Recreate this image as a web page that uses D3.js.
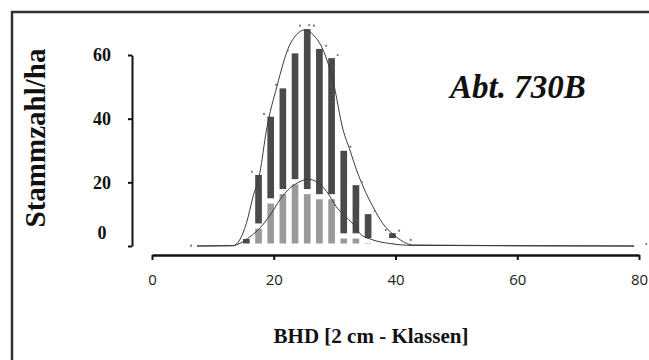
<!DOCTYPE html>
<html>
<head>
<meta charset="utf-8">
<script src="https://cdn.jsdelivr.net/npm/d3@7"></script>
<style>
body { margin: 0; background: #fff; }
svg { display: block; }
.x-axis text { font-family: "Open Sans", "DejaVu Sans", sans-serif; font-size: 15px; fill: #222; }
.y-axis text { font-family: "Liberation Serif", "Times New Roman", serif; font-weight: bold; font-size: 18px; fill: #111; }
.title { font-family: "Liberation Serif", "Times New Roman", serif; font-weight: bold; fill: #111; }
</style>
</head>
<body>
<svg></svg>
<script>
// diameter classes (bar centres, cm) and stem numbers per ha
let classes = [15.5, 17.5, 19.5, 21.5, 23.5, 25.5, 27.5, 29.5, 31.5, 33.5, 35.5, 37.5, 39.5];
let lightValues = [0, 6.3, 14.2, 17.1, 20.2, 17.1, 15.5, 15.5, 3.2, 3.2, 1.7, 0, 1.7];
let darkValues = [3.0, 16.8, 27.2, 33.2, 41.1, 51.8, 47.2, 44.3, 27.5, 16.7, 9.1, 0, 3.1];

// small marker points
let dotX = [6.4, 16.4, 18.4, 20.4, 22.3, 24.3, 25.8, 26.6, 28.6, 30.5, 32.6, 34.5, 36.6, 38.4, 40.6, 42.5, 81.2];
let dotY = [0.1, 23.3, 41.5, 50.6, 61.4, 69.2, 69.4, 69.2, 62.9, 60.0, 31.2, 20.0, 11.0, 5.0, 4.8, 1.9, 0.6];

// fitted curves
let outerX = [7.4, 13.3, 14.4, 15.5, 16.6, 17.7, 18.8, 20.5, 22.6, 23.7, 25.1, 26.5, 28.1, 29.7, 31.4, 32.5, 33.6, 34.7, 36.3, 37.9, 40.1, 42.9, 79.2];
let outerY = [0, 0.1, 1.9, 7.1, 15.5, 22.8, 36.4, 50.0, 63.1, 66.3, 67.9, 66.3, 61.6, 52.2, 36.4, 30.2, 23.9, 18.6, 12.3, 7.1, 2.9, 0.3, 0];
let innerX = [7.4, 13.3, 14.4, 16.1, 17.7, 19.4, 21.0, 22.6, 24.3, 25.6, 27.0, 28.7, 30.3, 31.9, 33.4, 34.1, 36.3, 39.0, 42.8, 79.2];
let innerY = [0, 0.1, 0.8, 2.9, 5.6, 9.7, 14.5, 18.1, 20.2, 21.0, 20.2, 17.1, 12.3, 9.0, 6.1, 4.0, 1.9, 0.8, 0.2, 0];

let xTicks = [0, 20, 40, 60, 80];
let yTicks = [0, 20, 40, 60];

let width = 649;
let height = 360;

let xScale;
let yScale;

const svg = d3.select('svg');

let drawCanvas = () => {
    svg.attr('width', width);
    svg.attr('height', height);

    // frame, only left and top edges are in view
    svg.append('path')
       .attr('d', 'M12,' + height + ' V12 H' + width)
       .attr('fill', 'none')
       .attr('stroke', '#333')
       .attr('stroke-width', 2.5);
}

let generateScales = () => {
    xScale = d3.scaleLinear()
               .domain([0, 80])
               .range([152, 639]);

    yScale = d3.scaleLinear()
               .domain([0, 60])
               .range([246, 55]);
}

let drawBars = () => {
    let half = 0.96;
    let bars = classes.map((c, i) => {
        return {c: c, light: lightValues[i], dark: darkValues[i]};
    });

    let g = svg.append('g');

    g.selectAll('.light')
     .data(bars.filter((d) => d.light > 0))
     .enter()
     .append('rect')
     .attr('class', 'light')
     .attr('x', (d) => xScale(d.c - half))
     .attr('width', (d) => xScale(d.c + half) - xScale(d.c - half))
     .attr('y', (d) => yScale(d.light))
     .attr('height', (d) => yScale(0) - yScale(d.light))
     .attr('fill', '#9a9a9a')
     .attr('stroke', '#fff')
     .attr('stroke-width', 5);

    g.selectAll('.dark')
     .data(bars.filter((d) => d.dark > 0))
     .enter()
     .append('rect')
     .attr('class', 'dark')
     .attr('x', (d) => xScale(d.c - half))
     .attr('width', (d) => xScale(d.c + half) - xScale(d.c - half))
     .attr('y', (d) => yScale(d.light + d.dark))
     .attr('height', (d) => yScale(d.light) - yScale(d.light + d.dark))
     .attr('fill', '#4a4a4a')
     .attr('stroke', '#fff')
     .attr('stroke-width', 5);
}

let drawCurves = () => {
    let line = d3.line()
                 .x((d) => xScale(d[0]))
                 .y((d) => yScale(d[1]))
                 .curve(d3.curveMonotoneX);

    svg.append('path')
       .datum(outerX.map((x, i) => [x, outerY[i]]))
       .attr('d', line)
       .attr('fill', 'none')
       .attr('stroke', '#3a3a3a')
       .attr('stroke-width', 1);

    svg.append('path')
       .datum(innerX.map((x, i) => [x, innerY[i]]))
       .attr('d', line)
       .attr('fill', 'none')
       .attr('stroke', '#3a3a3a')
       .attr('stroke-width', 1);

    svg.selectAll('.dot')
       .data(dotX.map((x, i) => [x, dotY[i]]))
       .enter()
       .append('circle')
       .attr('class', 'dot')
       .attr('cx', (d) => xScale(d[0]))
       .attr('cy', (d) => yScale(d[1]))
       .attr('r', 1.1)
       .attr('fill', '#777');
}

let generateAxes = () => {
    let xAxis = d3.axisBottom(xScale)
                  .tickValues(xTicks)
                  .tickSize(5)
                  .tickSizeOuter(0)
                  .tickPadding(14);

    let yAxis = d3.axisLeft(yScale)
                  .tickValues(yTicks)
                  .tickSize(4)
                  .tickSizeOuter(0)
                  .tickPadding(0);

    let gx = svg.append('g')
                .attr('class', 'x-axis')
                .call(xAxis)
                .attr('font-family', null)
                .attr('font-size', null)
                .attr('transform', 'translate(0, 255)');
    gx.select('.domain').attr('stroke', '#111').attr('stroke-width', 2.5);
    gx.selectAll('.tick line').attr('stroke', '#111').attr('stroke-width', 2);
    gx.selectAll('text').attr('fill', null);

    let gy = svg.append('g')
                .attr('class', 'y-axis')
                .call(yAxis)
                .attr('font-family', null)
                .attr('font-size', null)
                .attr('transform', 'translate(132, 0)');
    gy.select('.domain').attr('stroke', '#111').attr('stroke-width', 2);
    gy.selectAll('.tick line').attr('stroke', '#111').attr('stroke-width', 2);
    gy.selectAll('text')
      .attr('fill', null)
      .attr('x', -30)
      .attr('text-anchor', 'middle')
      .attr('dy', (d) => d === 0 ? '-0.4em' : '0.32em');
}

let drawTitles = () => {
    svg.append('text')
       .attr('class', 'title')
       .attr('x', 450)
       .attr('y', 98)
       .attr('font-style', 'italic')
       .attr('font-size', 33)
       .text('Abt. 730B');

    svg.append('text')
       .attr('class', 'title')
       .attr('transform', 'translate(45, 138) rotate(-90)')
       .attr('text-anchor', 'middle')
       .attr('font-size', 29)
       .text('Stammzahl/ha');

    svg.append('text')
       .attr('class', 'title')
       .attr('x', 371)
       .attr('y', 343)
       .attr('text-anchor', 'middle')
       .attr('font-size', 21)
       .text('BHD [2 cm - Klassen]');
}

drawCanvas();
generateScales();
drawBars();
drawCurves();
generateAxes();
drawTitles();
</script>
</body>
</html>
